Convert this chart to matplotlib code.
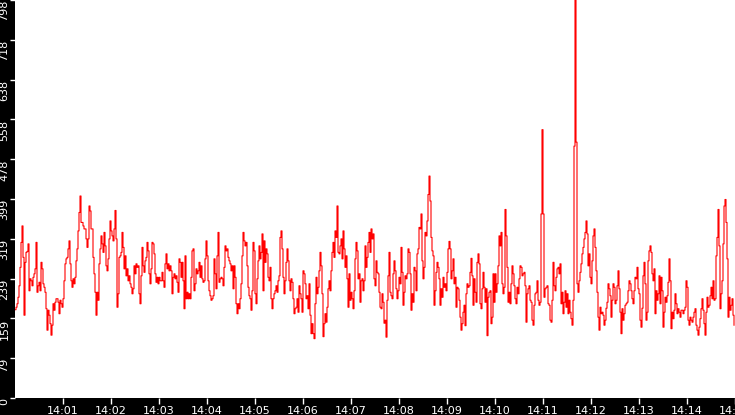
import numpy as np
import pandas as pd
import matplotlib
matplotlib.use('Agg')
import matplotlib.pyplot as plt

# readings, one per 1.25 s, split into chunks of 90 samples
chunk1 = [177, 182, 189, 202, 225, 262, 312, 345, 282, 166,
          272, 292, 294, 309, 215, 239, 235, 225, 242, 249,
          259, 312, 212, 225, 232, 215, 272, 259, 229, 222,
          212, 179, 136, 176, 166, 149, 126, 146, 189, 176,
          192, 199, 199, 192, 169, 196, 189, 182, 199, 235,
          269, 279, 282, 299, 315, 269, 235, 222, 239, 229,
          242, 275, 299, 335, 372, 405, 352, 352, 345, 339,
          339, 319, 302, 319, 385, 375, 339, 339, 282, 249,
          212, 166, 212, 196, 269, 299, 325, 309, 292, 332]
chunk2 = [305, 265, 255, 279, 319, 355, 335, 325, 315, 339,
          376, 319, 182, 209, 282, 285, 292, 332, 302, 259,
          285, 245, 259, 235, 245, 229, 222, 209, 219, 265,
          249, 269, 262, 265, 209, 189, 245, 302, 265, 252,
          275, 282, 312, 295, 249, 229, 259, 312, 309, 289,
          249, 232, 242, 229, 242, 235, 235, 252, 235, 222,
          269, 289, 259, 269, 255, 265, 255, 209, 242, 249,
          239, 245, 232, 212, 279, 272, 242, 272, 235, 179,
          285, 199, 212, 199, 209, 199, 242, 295, 299, 215]
chunk3 = [229, 259, 249, 255, 272, 242, 265, 239, 232, 235,
          279, 315, 285, 235, 215, 205, 196, 199, 205, 279,
          249, 219, 285, 332, 232, 239, 242, 239, 225, 262,
          305, 295, 299, 282, 275, 269, 255, 265, 219, 265,
          242, 189, 169, 189, 179, 199, 229, 285, 332, 315,
          305, 312, 265, 222, 205, 199, 176, 215, 312, 295,
          209, 189, 239, 275, 305, 279, 292, 329, 215, 315,
          272, 299, 289, 242, 235, 262, 199, 179, 199, 209,
          215, 225, 212, 235, 245, 322, 335, 299, 242, 209]
chunk4 = [235, 272, 299, 275, 235, 215, 239, 232, 199, 169,
          179, 182, 199, 172, 225, 209, 199, 172, 255, 249,
          229, 199, 205, 179, 229, 166, 129, 149, 129, 119,
          189, 242, 209, 222, 255, 292, 265, 209, 123, 149,
          169, 152, 182, 219, 235, 215, 255, 292, 312, 282,
          335, 322, 385, 292, 289, 305, 319, 279, 335, 299,
          262, 285, 239, 182, 249, 196, 212, 199, 179, 215,
          279, 312, 295, 239, 249, 192, 235, 239, 215, 235,
          305, 262, 282, 312, 332, 292, 339, 319, 329, 239]
chunk5 = [225, 275, 252, 249, 212, 182, 179, 209, 192, 150,
          156, 122, 196, 245, 292, 212, 205, 199, 249, 275,
          255, 219, 199, 215, 242, 229, 302, 252, 186, 212,
          245, 239, 249, 299, 292, 249, 176, 209, 192, 262,
          255, 215, 289, 299, 342, 339, 369, 275, 239, 262,
          332, 325, 355, 408, 445, 395, 322, 295, 285, 186,
          215, 252, 272, 262, 239, 186, 219, 202, 242, 222,
          229, 215, 252, 299, 314, 299, 239, 255, 279, 229,
          242, 182, 222, 219, 196, 162, 136, 149, 172, 186]
chunk6 = [145, 209, 229, 222, 225, 252, 280, 245, 186, 239,
          212, 192, 272, 289, 269, 189, 179, 219, 252, 222,
          192, 219, 125, 202, 212, 215, 149, 162, 249, 192,
          249, 212, 229, 265, 325, 305, 332, 229, 209, 222,
          378, 325, 262, 192, 212, 189, 229, 265, 249, 225,
          199, 189, 222, 209, 239, 265, 262, 245, 249, 252,
          225, 152, 209, 219, 225, 196, 192, 156, 146, 186,
          209, 212, 235, 196, 186, 192, 369, 538, 369, 202,
          219, 222, 225, 189, 186, 156, 152, 196, 272, 225]
chunk7 = [215, 242, 259, 262, 249, 269, 189, 212, 169, 192,
          215, 182, 209, 169, 196, 172, 159, 146, 196, 505,
          805, 513, 229, 212, 235, 252, 269, 289, 302, 319,
          332, 355, 329, 265, 289, 242, 229, 275, 325, 339,
          302, 255, 212, 162, 136, 182, 169, 172, 166, 146,
          156, 180, 192, 229, 219, 205, 162, 196, 229, 222,
          189, 196, 225, 255, 219, 172, 129, 179, 156, 169,
          186, 189, 192, 215, 235, 229, 215, 199, 189, 215,
          242, 239, 262, 219, 209, 156, 142, 180, 245, 272]
chunk8 = [229, 156, 172, 275, 295, 305, 292, 249, 235, 259,
          169, 215, 196, 209, 245, 189, 242, 215, 142, 172,
          202, 192, 205, 232, 279, 235, 139, 172, 159, 176,
          209, 189, 169, 179, 172, 162, 176, 176, 169, 176,
          182, 235, 222, 156, 146, 162, 156, 152, 162, 172,
          179, 146, 136, 126, 142, 159, 179, 199, 176, 149,
          126, 172, 202, 182, 186, 205, 222, 199, 235, 196,
          199, 285, 322, 378, 305, 179, 209, 235, 309, 385,
          398, 352, 279, 162, 202, 176, 186, 199, 166, 146]

ytick_labels = ['0', '79', '159', '239', '319', '399', '478', '558', '638', '718', '798']
xtick_labels = ['14:01', '14:02', '14:03', '14:04', '14:05', '14:06', '14:07', '14:08',
                '14:09', '14:10', '14:11', '14:12', '14:13', '14:14', '14:15']

values = chunk1 + chunk2 + chunk3 + chunk4 + chunk5 + chunk6 + chunk7 + chunk8
start = pd.Timestamp('2024-01-01 14:00:00')
end = pd.Timestamp('2024-01-01 14:15:00')
times = pd.date_range(start, periods=len(values), freq='1250ms')

fig = plt.figure(figsize=(7.35, 4.15), dpi=100, facecolor='black')
ax = fig.add_axes([15 / 735, 17 / 415, 720 / 735, 398 / 415])
ax.set_facecolor('white')

ax.plot(times, values, color='#ff0000', lw=0.8, drawstyle='steps-post')

ax.set_xlim(start, end)
ax.set_ylim(0, 798)

ax.set_xticks(pd.date_range('2024-01-01 14:01', periods=len(xtick_labels), freq='1min'))
ax.set_xticklabels(xtick_labels)
ax.set_yticks(np.arange(len(ytick_labels)) * 79.8)
ax.set_yticklabels(ytick_labels)

for s in ax.spines.values():
    s.set_visible(False)

ax.tick_params(axis='x', direction='out', length=4.5, width=1, color='white',
               labelcolor='white', labelsize=8, pad=1.5)
ax.tick_params(axis='y', direction='out', length=3.5, width=1, color='white',
               labelcolor='white', labelsize=8, pad=0.5)
for lab in ax.get_yticklabels():
    lab.set_rotation(90)
    lab.set_va('top')
    lab.set_ha('right')

fig.savefig('out.png', dpi=100, facecolor='black')
